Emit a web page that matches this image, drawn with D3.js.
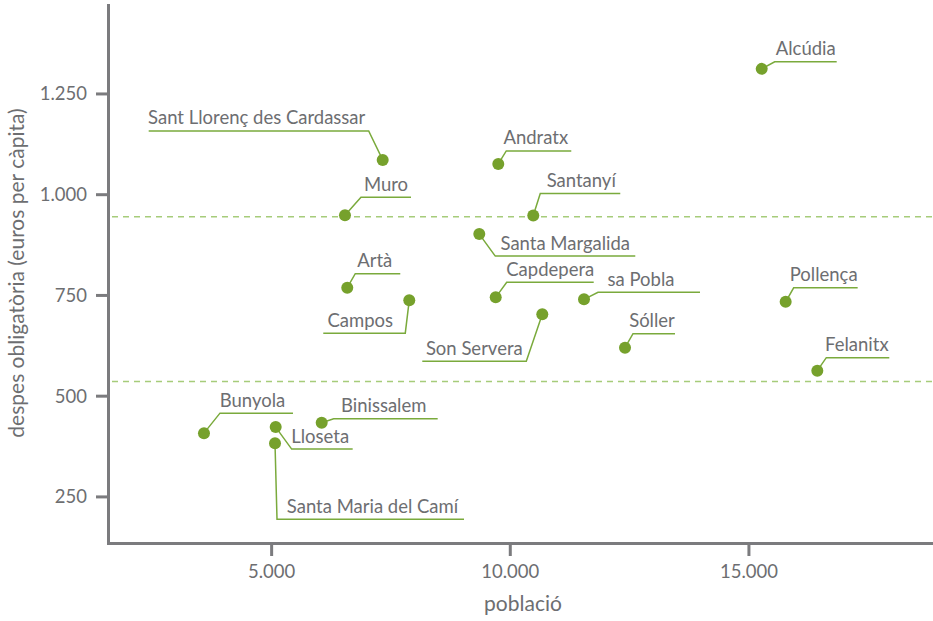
<!DOCTYPE html>
<html>
<head>
<meta charset="utf-8">
<script src="https://cdn.jsdelivr.net/npm/d3@7"></script>
<style>
  body { margin: 0; background: #fff; }
  svg { display: block; }
  text { font-family: Lato, "Open Sans", sans-serif; fill: #6d6e71; }
</style>
</head>
<body>
<svg id="chart" width="933" height="621"></svg>
<script>
// ---------------- data ----------------
const municipalities = [
  "Alcúdia", "Sant Llorenç des Cardassar", "Andratx", "Muro", "Santanyí",
  "Santa Margalida", "Artà", "Campos", "Capdepera", "sa Pobla",
  "Son Servera", "Sóller", "Pollença", "Felanitx", "Bunyola",
  "Lloseta", "Santa Maria del Camí", "Binissalem"
];
const population = [
  15278, 7337, 9759, 6547, 10492,
  9361, 6595, 7894, 9705, 11555,
  10681, 12414, 15780, 16443, 3593,
  5095, 5081, 6059
];
const spending = [
  1311, 1085, 1075, 948, 947,
  901, 768, 737, 744, 739,
  702, 619, 733, 562, 407,
  422, 382, 433
];
const referenceLines = [944, 535];
const xTicks = [5000, 10000, 15000];
const yTicks = [250, 500, 750, 1000, 1250];
const xTitle = "població";
const yTitle = "despes obligatòria (euros per càpita)";

// ---------------- callout layout (elbow dx, elbow dy, line length, text dx) ----------------
const callouts = {
  "Alcúdia": [13, -7, 62, 0],
  "Sant Llorenç des Cardassar": [-14, -29, -220, -2],
  "Andratx": [8, -13, 65, -3],
  "Muro": [16, -18, 50, 0],
  "Santanyí": [7, -22, 80, 1],
  "Santa Margalida": [16, 22, 140, 0],
  "Artà": [8, -14, 45, -3],
  "Campos": [-4, 33, -82, -4],
  "Capdepera": [11, -15, 87, 0],
  "sa Pobla": [14, -7, 102, -8],
  "Son Servera": [-16, 47, -104, 0],
  "Sóller": [8, -14, 42, -2],
  "Pollença": [8, -14, 64, -2],
  "Felanitx": [9, -13, 63, -1],
  "Bunyola": [16, -20, 73, -4],
  "Lloseta": [16, 22, 61, -2],
  "Santa Maria del Camí": [2, 76, 187, 2],
  "Binissalem": [12, -4, 104, -2]
};

// ---------------- setup ----------------
const FS = 20;        // label font size
const SQ = 0.925;     // horizontal text condensing
const TFS = 21;       // axis-title font size
const axisColor = "#7b7b7e";
const dotColor = "#76a12c";
const leaderColor = "#7aaa3c";
const refColor = "#a6cc7a";

const svg = d3.select("#chart");
const mLeft = 108, mRight = 933, mTop = 5, mBottom = 543;

const x = d3.scaleLinear().domain([1582, 18867]).range([mLeft, mRight]);
const y = d3.scaleLinear().domain([134.4, 1469.5]).range([mBottom, mTop]);

const loc = d3.formatLocale({ decimal: ",", thousands: ".", grouping: [3], currency: ["", " €"] });
const fmt = loc.format(",d");

// reference dashed lines
svg.append("g").selectAll("line").data(referenceLines).join("line")
  .attr("x1", mLeft + 4).attr("x2", mRight)
  .attr("y1", d => y(d)).attr("y2", d => y(d))
  .attr("stroke", refColor).attr("stroke-width", 1.4)
  .attr("stroke-dasharray", "6,5");

// axes
const xAxis = svg.append("g").attr("transform", `translate(0,${mBottom})`)
  .call(d3.axisBottom(x).tickValues(xTicks).tickFormat(fmt).tickSize(13).tickSizeOuter(0).tickPadding(8));
const yAxis = svg.append("g").attr("transform", `translate(${mLeft},0)`)
  .call(d3.axisLeft(y).tickValues(yTicks).tickFormat(fmt).tickSize(12).tickSizeOuter(0).tickPadding(9));

[xAxis, yAxis].forEach(g => {
  g.select(".domain").attr("stroke", axisColor).attr("stroke-width", 3).attr("stroke-linecap", "square");
  g.selectAll(".tick line").attr("stroke", axisColor).attr("stroke-width", 3);
  g.selectAll(".tick text")
    .attr("fill", "#6d6e71")
    .style("font-size", FS + "px")
    .style("font-family", "Lato, 'Open Sans', sans-serif")
    .each(function () {
      const t = d3.select(this);
      const xv = +t.attr("x") || 0;
      t.attr("x", xv / SQ).attr("transform", `scale(${SQ},1)`);
    });
});

// axis titles
svg.append("text")
  .attr("transform", `translate(523,611)`)
  .attr("text-anchor", "middle")
  .style("font-size", TFS + "px")
  .text(xTitle);

svg.append("text")
  .attr("transform", `translate(24,273) rotate(-90)`)
  .attr("text-anchor", "middle")
  .style("font-size", TFS + "px")
  .text(yTitle);

// points and callouts
const pts = municipalities.map((name, i) => ({ name, pop: population[i], val: spending[i] }));

const cg = svg.append("g");
pts.forEach(p => {
  const [ex, ey, len, tdx] = callouts[p.name];
  const px = x(p.pop), py = y(p.val);
  const ax = px + ex, ay = py + ey, bx = ax + len;
  cg.append("polyline")
    .attr("points", `${px},${py} ${ax},${ay} ${bx},${ay}`)
    .attr("fill", "none").attr("stroke", leaderColor).attr("stroke-width", 1.5);
  cg.append("text")
    .attr("transform", `translate(${(ax + bx) / 2 + tdx},${ay - 6.5}) scale(${SQ},1)`)
    .attr("text-anchor", "middle")
    .style("font-size", FS + "px")
    .text(p.name);
});

svg.append("g").selectAll("circle").data(pts).join("circle")
  .attr("cx", d => x(d.pop)).attr("cy", d => y(d.val))
  .attr("r", 6).attr("fill", dotColor);
</script>
</body>
</html>
